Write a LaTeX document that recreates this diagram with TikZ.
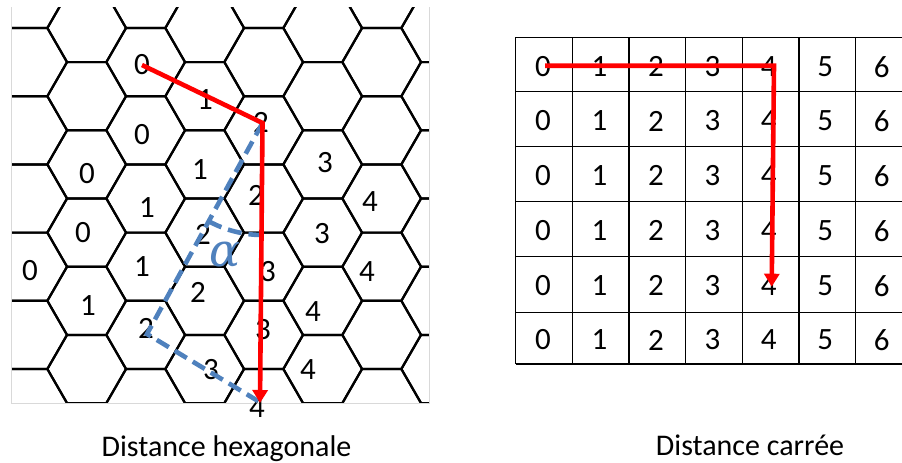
\RequirePackage{fix-cm}
\documentclass[tikz,border=0pt]{standalone}
\usepackage{fontspec}
\setmainfont{Carlito}
\newfontfamily\grkfont{DejaVu Serif}
\usetikzlibrary{arrows.meta,calc}
\definecolor{officeblue}{HTML}{4F81BD}
\definecolor{framegray}{HTML}{D9D9D9}
\begin{document}
\begin{tikzpicture}[x=1pt,y=-1pt,
  hexline/.style={line width=2.2pt,black,line join=round},
  gridline/.style={line width=1.3pt,black},
  framebox/.style={line width=1pt,framegray},
  lbl/.style={font=\fontsize{31}{36}\selectfont,inner sep=0pt},
  redpath/.style={line width=4.6pt,red,-{Triangle[length=13pt,width=15pt]}},
  bluedash/.style={line width=4.6pt,officeblue,dash pattern=on 14pt off 7pt},
  capt/.style={font=\fontsize{30}{36}\selectfont,inner sep=0pt,anchor=base}]
\useasboundingbox (0,0) rectangle (902,463);

% ---------- hexagonal grid ----------
\begin{scope}
\clip (11,7) rectangle (429,403);
\foreach \k in {-1,...,8} {
  \foreach \j in {-1,...,7} {
    \pgfmathsetmacro\cx{27.7+59*\k}
    \pgfmathtruncatemacro\off{mod(\k+10,2)==0 ? 1 : 0}
    \pgfmathsetmacro\cy{28+34.1*(2*\j+\off)}
    \draw[hexline] (\cx+39.33,\cy) -- (\cx+19.67,\cy+34.1) -- (\cx-19.67,\cy+34.1)
      -- (\cx-39.33,\cy) -- (\cx-19.67,\cy-34.1) -- (\cx+19.67,\cy-34.1) -- cycle;
  }
}
\end{scope}
\draw[framebox] (11,7) -- (11,403) -- (429,403) -- (429,7);

% hex labels
\node[lbl] (h1)  at (142,65)  {0};
\node[lbl] (h2)  at (205,100) {1};
\node[lbl] (h3)  at (261,122) {2};
\node[lbl] (h4)  at (142,135) {0};
\node[lbl] (h5)  at (87,174)  {0};
\node[lbl] (h6)  at (200,170) {1};
\node[lbl] (h7)  at (325,163) {3};
\node[lbl] (h8)  at (256,195) {2};
\node[lbl] (h9)  at (147,208) {1};
\node[lbl] (h10) at (370,202) {4};
\node[lbl] (h11) at (83,233)  {0};
\node[lbl] (h12) at (203,234) {2};
\node[lbl] (h13) at (322,234) {3};
\node[lbl] (h14) at (30,271)  {0};
\node[lbl] (h15) at (142,267) {1};
\node[lbl] (h16) at (268,272) {3};
\node[lbl] (h17) at (367,272) {4};
\node[lbl] (h18) at (198,292) {2};
\node[lbl] (h19) at (88,306)  {1};
\node[lbl] (h20) at (313,312) {4};
\node[lbl] (h21) at (263,330) {3};
\node[lbl] (h22) at (146,328) {2};
\node[lbl] (h23) at (211,370) {3};
\node[lbl] (h24) at (308,370) {4};
\node[lbl] (h25) at (257,408) {4};

% hex paths
\coordinate (hs) at (142,65);
\coordinate (hv) at (262.5,123);
\coordinate (he) at (260,403);
\coordinate (hb) at (147,334);
\coordinate (hf) at (258,401);
\draw[bluedash] (hv) -- (hb) -- (hf);
\draw[bluedash] ($(hv)!112pt!(hb)$) arc[start angle=118.7, end angle=90.5, radius=112];
\draw[redpath] (hs) -- (hv) -- (he);
\node[text=officeblue,font=\grkfont\itshape\fontsize{46}{54}\selectfont,inner sep=0pt] (alpha) at (225,255) {α};

% ---------- square grid ----------
\foreach \x in {515.7,572.3,629,685.7,742.3,799,855.7}
  \draw[gridline] (\x,37.3) -- (\x,364);
\foreach \y in {37.3,91.7,146.7,201.7,256.7,312.3,364}
  \draw[gridline] (515.7,\y) -- (902,\y);
\foreach \r/\yy in {1/66.7,2/121,3/175.7,4/230.7,5/285.7,6/340} {
  \foreach \c in {0,...,6} {
    \node[lbl] (s\r\c) at (543+56.45*\c,\yy) {\c};
  }
}
\coordinate (ss) at (545,65.7);
\coordinate (sv) at (774,65.7);
\coordinate (se) at (771.7,286.7);
\draw[redpath] (ss) -- (sv) -- (se);

% ---------- captions ----------
\node[capt] (cap1) at (226.5,456.5) {Distance hexagonale};
\node[capt] (cap2) at (750,455) {Distance carrée};
\end{tikzpicture}
\end{document}
